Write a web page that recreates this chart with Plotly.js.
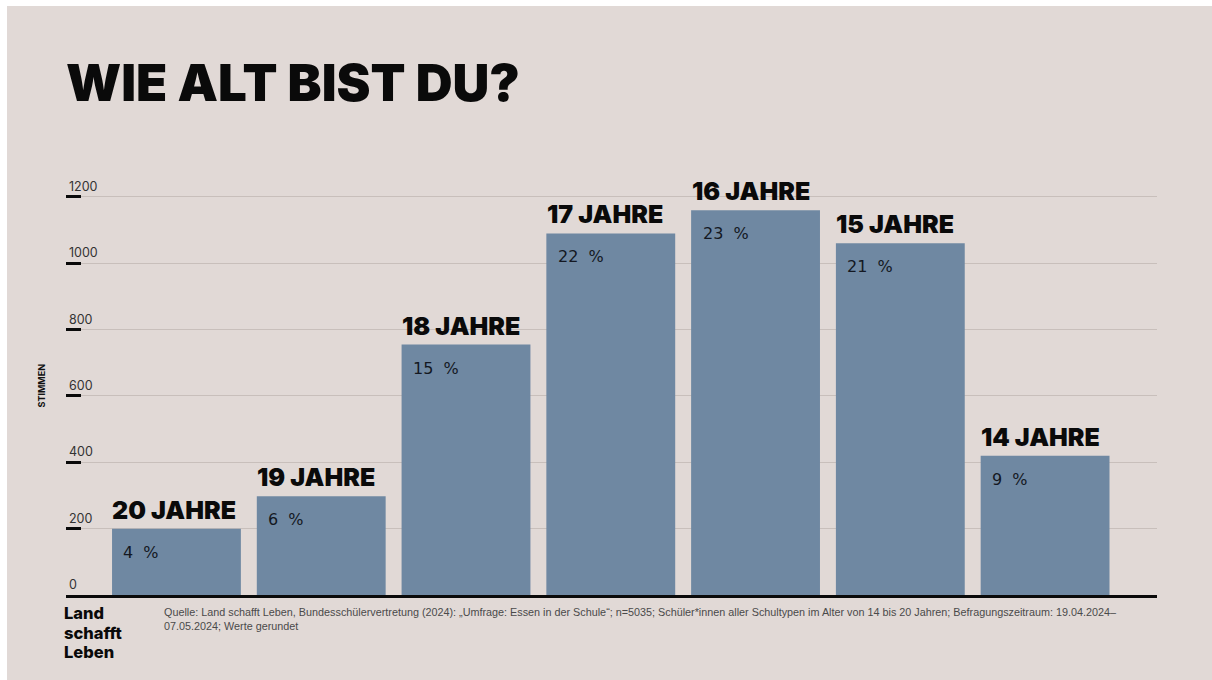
<!DOCTYPE html>
<html>
<head>
<meta charset="utf-8">
<script src="https://cdn.plot.ly/plotly-3.0.1.min.js"></script>
<style>
  html, body { margin: 0; padding: 0; background: #ffffff; width: 1212px; height: 680px; overflow: hidden; }
  #chart { position: absolute; left: 7px; top: 6px; width: 1205px; height: 674px; }
</style>
</head>
<body>
<div id="chart"></div>
<script>
// ---- data ----
const categories = ['20 JAHRE', '19 JAHRE', '18 JAHRE', '17 JAHRE', '16 JAHRE', '15 JAHRE', '14 JAHRE'];
const votes = [200, 298, 755, 1090, 1160, 1060, 420];
const percentLabels = ['4 %', '6 %', '15 %', '22 %', '23 %', '21 %', '9 %'];
const yTickVals = [0, 200, 400, 600, 800, 1000, 1200];
const yTickText = ['0', '200', '400', '600', '800', '1000', '1200'];
const titleText = 'WIE ALT BIST DU?';
const yAxisLabel = 'STIMMEN';
const logoLines = ['Land', 'schafft', 'Leben'];
const sourceText = 'Quelle: Land schafft Leben, Bundesschülervertretung (2024): „Umfrage: Essen in der Schule“; n=5035; Schüler*innen aller Schultypen im Alter von 14 bis 20 Jahren; Befragungszeitraum: 19.04.2024–<br>07.05.2024; Werte gerundet';

const BG = '#e1d9d6';
const BAR = '#6f88a2';
const HEAVY = 'Inter, Roboto, "DejaVu Sans", sans-serif';

const xIdx = categories.map((c, i) => i);

const trace = {
  type: 'bar',
  x: xIdx,
  y: votes,
  marker: { color: BAR, line: { width: 0 } },
  hoverinfo: 'skip'
};

const annotations = [];
categories.forEach((c, i) => {
  annotations.push({
    x: i, y: votes[i], xref: 'x', yref: 'y',
    text: c, showarrow: false,
    xanchor: 'left', yanchor: 'bottom', xshift: -66, yshift: 2,
    font: { family: HEAVY, size: 25, color: '#0a0a0a', weight: 900 }
  });
  annotations.push({
    x: i, y: votes[i], xref: 'x', yref: 'y',
    text: percentLabels[i].replace(' ', '&nbsp;&nbsp;'), showarrow: false,
    xanchor: 'left', yanchor: 'top', xshift: -55, yshift: -12,
    font: { family: '"DejaVu Sans", sans-serif', size: 16, color: '#141822' }
  });
});

annotations.push({
  x: 0, xref: 'paper', xanchor: 'right', xshift: -18,
  y: 0.5, yref: 'paper', yanchor: 'middle',
  text: yAxisLabel, textangle: -90, showarrow: false,
  font: { family: 'Inter, "DejaVu Sans", sans-serif', size: 9, color: '#111', weight: 700 }
});
logoLines.forEach((line, k) => {
  annotations.push({
    x: 0, xref: 'paper', xanchor: 'left', xshift: -3,
    y: 0, yref: 'paper', yanchor: 'middle', yshift: -18 - 19.5 * k,
    text: line, showarrow: false, align: 'left', borderpad: 0,
    font: { family: 'Inter, sans-serif', size: 16.5, color: '#0a0a0a', weight: 800 }
  });
});
annotations.push({
  x: 0, xref: 'paper', xanchor: 'left', xshift: 96,
  y: 0, yref: 'paper', yanchor: 'top', yshift: -9,
  text: sourceText, showarrow: false, align: 'left',
  font: { family: '"Liberation Sans", Arial, sans-serif', size: 10.8, color: '#4a4a4a' }
});

const layout = {
  width: 1205, height: 674,
  paper_bgcolor: BG, plot_bgcolor: BG,
  margin: { l: 59, r: 55, t: 171, b: 85 },
  showlegend: false,
  bargap: 0.11,
  title: {
    text: titleText,
    x: 0, xref: 'paper', xanchor: 'left',
    y: 0.885, yref: 'container', yanchor: 'middle',
    font: { family: HEAVY, size: 51, color: '#0a0a0a', weight: 900 }
  },
  xaxis: {
    type: 'linear',
    range: [-0.763, 6.773],
    showgrid: false, zeroline: false,
    showticklabels: false, ticks: '',
    showline: true, linecolor: '#0a0a0a', linewidth: 3,
    fixedrange: true
  },
  yaxis: {
    range: [0, 1260],
    tickvals: yTickVals, ticktext: yTickText,
    ticks: 'inside', ticklen: 15, tickwidth: 3, tickcolor: '#0a0a0a',
    ticklabelposition: 'inside top',
    tickfont: { family: 'Inter, "DejaVu Sans", sans-serif', size: 12.5, color: '#333333', weight: 400 },
    showgrid: true, gridcolor: '#c8bfbb', gridwidth: 1,
    zeroline: false, showline: false,
    fixedrange: true
  },
  annotations: annotations
};

Plotly.newPlot('chart', [trace], layout, { displayModeBar: false, staticPlot: true });
</script>
</body>
</html>
